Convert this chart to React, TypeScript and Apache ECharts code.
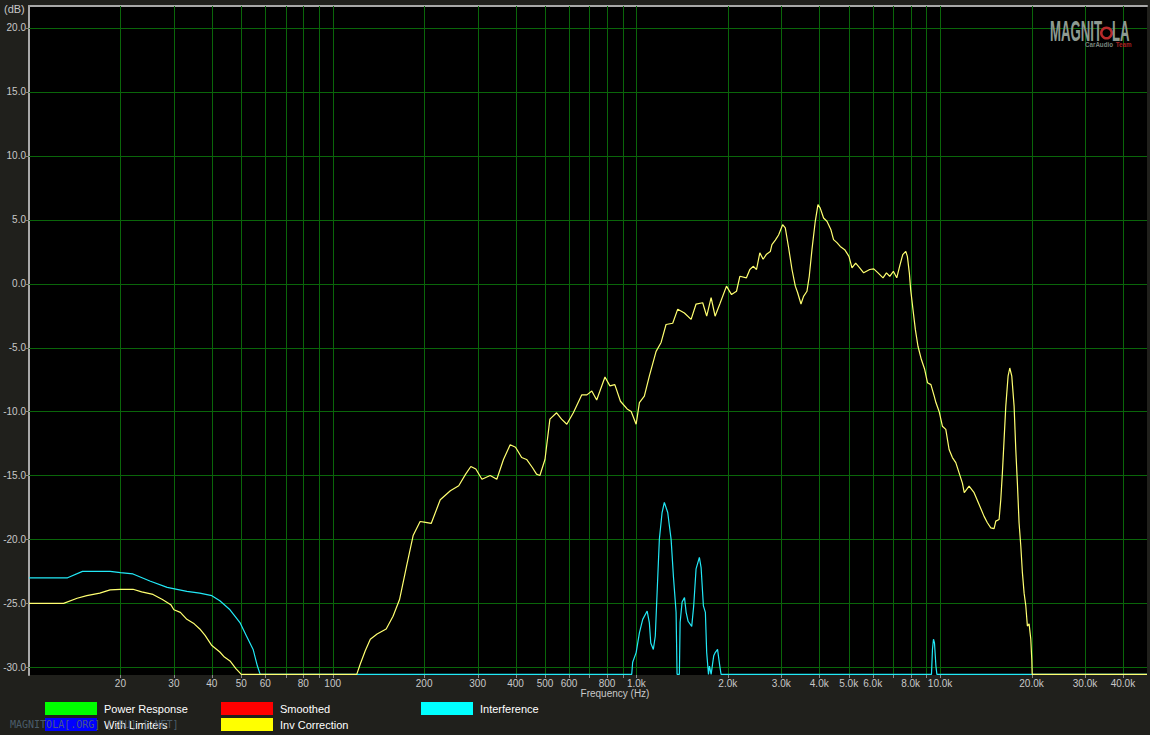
import React, { useEffect, useRef } from "react";
import * as echarts from "echarts";

// ---- axis ranges ----
const F_MIN = 10;
const F_MAX = 48000;
const Y_MIN = -30.6;
const Y_MAX = 21.7;
const FLOOR = -30.55; // curves that fall below the visible range sit on the floor

// ---- tick / grid definitions ----
const gridFreqs = [20, 30, 40, 50, 60, 70, 80, 90, 100, 200, 300, 400, 500, 600, 700, 800, 900, 1000, 2000, 3000, 4000, 5000, 6000, 7000, 8000, 9000, 10000, 20000, 30000, 40000];
const freqTickLabels = ["20", "30", "40", "50", "60", "", "80", "", "100", "200", "300", "400", "500", "600", "", "800", "", "1.0k", "2.0k", "3.0k", "4.0k", "5.0k", "6.0k", "", "8.0k", "", "10.0k", "20.0k", "30.0k", "40.0k"];
const dbTicks = [20, 15, 10, 5, 0, -5, -10, -15, -20, -25, -30];
const dbTickLabels = ["20.0", "15.0", "10.0", "5.0", "0.0", "-5.0", "-10.0", "-15.0", "-20.0", "-25.0", "-30.0"];

// ---- series: Inv Correction (yellow) [Hz, dB] ----
const invCorrection: [number, number][] = [
  [10, -25.0], [13, -25.0], [14.4, -24.6], [15.5, -24.4], [17.1, -24.2], [18.5, -23.95], [20, -23.9], [22, -23.9],
  [23.5, -24.1], [25.6, -24.3], [27.5, -24.7], [29.3, -25.1], [30, -25.5], [31.5, -25.7], [33.1, -26.25], [35, -26.6],
  [36.5, -27.0], [38, -27.5], [40, -28.3], [42.5, -28.8], [44, -29.2], [45.9, -29.5], [48, -30.1], [50, FLOOR],
  [120, FLOOR], [123, -29.8], [128, -28.7], [133, -27.8], [140, -27.4], [150, -27.0], [158, -26.0], [166, -24.7],
  [175, -22.1], [184, -19.7], [194, -18.6], [200, -18.65], [211, -18.75], [226, -16.9], [244, -16.2], [260, -15.8],
  [274, -14.9], [285, -14.3], [296, -14.5], [310, -15.3], [330, -15.0], [347, -15.3], [365, -13.75], [384, -12.6],
  [400, -12.8], [419, -13.6], [435, -13.75], [455, -14.4], [469, -14.9], [481, -15.0], [500, -13.75], [519, -10.6],
  [546, -10.1], [567, -10.6], [590, -11.0], [620, -10.1], [661, -8.7], [687, -8.7], [713, -8.4], [740, -9.1],
  [788, -7.3], [818, -8.0], [849, -7.9], [886, -9.2], [932, -9.8], [961, -10.0], [998, -11.0], [1023, -9.3],
  [1062, -8.8], [1103, -7.24], [1161, -5.3], [1206, -4.6], [1252, -3.2], [1317, -3.1], [1368, -2.0], [1439, -2.3],
  [1514, -2.8], [1572, -1.6], [1653, -1.5], [1704, -2.55], [1762, -1.1], [1816, -2.55], [1882, -1.6], [1980, -0.2],
  [2057, -0.86], [2136, -0.6], [2191, 0.57], [2303, 0.45], [2363, 1.1], [2423, 1.35], [2486, 1.1], [2549, 2.4],
  [2614, 1.9], [2682, 2.3], [2760, 2.5], [2794, 3.05], [2867, 3.4], [2939, 3.8], [3030, 4.6], [3092, 4.35],
  [3171, 2.8], [3253, 1.1], [3336, -0.2], [3394, -0.7], [3483, -1.6], [3551, -1.0], [3644, -0.6], [3708, 0.57],
  [3785, 2.65], [3881, 4.87], [3961, 6.17], [4030, 5.9], [4133, 5.13], [4240, 4.87], [4371, 4.2], [4458, 3.44],
  [4574, 3.2], [4690, 2.9], [4851, 2.65], [5011, 2.13], [5127, 1.23], [5272, 1.6], [5435, 1.23], [5602, 0.84],
  [5865, 1.1], [6046, 1.15], [6246, 0.84], [6487, 0.45], [6657, 0.84], [6826, 0.57], [7016, 0.96], [7199, 0.45],
  [7382, 1.48], [7534, 2.27], [7708, 2.52], [7802, 2.13], [7920, 0.84], [8000, -0.47], [8141, -2.03], [8290, -3.6],
  [8455, -4.9], [8676, -5.94], [8895, -6.7], [9090, -7.76], [9326, -7.9], [9562, -8.8], [9687, -9.3], [9925, -10.0],
  [10175, -11.15], [10441, -11.4], [10706, -12.97], [10977, -13.6], [11264, -14.0], [11549, -14.8], [11842, -15.6],
  [12011, -16.35], [12458, -15.83], [12940, -16.35], [13439, -17.27], [13958, -18.2], [14311, -18.7], [14686, -19.1],
  [15058, -19.16], [15253, -18.57], [15639, -18.44], [15841, -16.9], [16035, -14.8], [16243, -12.2], [16453, -9.6],
  [16742, -7.24], [16961, -6.6], [17220, -7.24], [17525, -9.6], [17749, -12.97], [17966, -15.6], [18197, -18.7],
  [18435, -20.5], [18662, -22.6], [18905, -24.2], [19151, -25.2], [19383, -26.77], [19634, -26.6], [19888, -27.8],
  [20040, -29.4], [20100, FLOOR], [48000, FLOOR],
];

// ---- series: Interference (cyan) [Hz, dB] ----
const interference: [number, number][] = [
  [10, -23.0], [13.4, -23.0], [15, -22.5], [18.5, -22.5], [20, -22.6], [22, -22.7], [25, -23.25], [28.5, -23.75],
  [33.1, -24.06], [36.5, -24.2], [40, -24.4], [42.5, -24.8], [45.9, -25.5], [49.5, -26.5], [52, -27.55], [54.7, -28.6],
  [56.5, -29.9], [57.7, FLOOR], [965, FLOOR], [972, -29.6], [998, -28.85], [1023, -27.3], [1049, -26.25], [1085, -25.6],
  [1103, -26.5], [1115, -28.1], [1137, -28.6], [1154, -27.55], [1175, -23.1], [1190, -20.0], [1215, -17.9], [1236, -17.1],
  [1268, -17.9], [1301, -20.0], [1324, -22.9], [1351, -25.7], [1361, FLOOR], [1385, FLOOR], [1393, -26.5], [1414, -24.9],
  [1440, -24.55], [1458, -25.7], [1480, -26.4], [1521, -26.8], [1544, -25.2], [1572, -22.3], [1612, -21.4], [1633, -22.2],
  [1662, -25.2], [1687, -25.7], [1704, -28.85], [1727, FLOOR], [1740, -29.9], [1762, FLOOR], [1797, -29.1], [1818, -28.85],
  [1850, -28.6], [1882, -29.9], [1900, FLOOR], [9366, FLOOR], [9438, -28.6], [9510, -27.8], [9583, -28.1], [9687, -29.9],
  [9760, FLOOR], [48000, FLOOR],
];

// ---- legend entries ----
const legendCol1 = ["Power Response", "With Limiters"];
const legendCol2 = ["Smoothed", "Inv Correction"];
const legendCol3 = ["Interference"];

const GRID_COLOR = "#0a660a";
const TICK_COLOR = "#8a8a8a";
const LABEL_COLOR = "#c8c8c8";
const FONT = "'Liberation Sans', Arial, sans-serif";

export default function App() {
  const ref = useRef<HTMLDivElement>(null);

  useEffect(() => {
    if (!ref.current) return;
    const chart = echarts.init(ref.current, null, { renderer: "svg" });

    const legendBase = {
      orient: "vertical",
      icon: "rect",
      itemWidth: 52,
      itemHeight: 13,
      itemGap: 3,
      padding: 0,
      selectedMode: false,
      textStyle: { color: "#ffffff", fontSize: 11, fontFamily: FONT, padding: [0, 0, 0, 2] },
    };

    const option: any = {
      animation: false,
      backgroundColor: "#20201c",
      grid: {
        left: 29,
        right: 3,
        top: 6,
        bottom: 60,
        show: true,
        backgroundColor: "#000000",
        borderWidth: 0,
      },
      xAxis: [
        {
          type: "log",
          logBase: 10,
          min: F_MIN,
          max: F_MAX,
          axisLine: { show: false },
          axisTick: { show: false },
          axisLabel: { show: false },
          splitLine: { show: false },
        },
        {
          type: "value",
          position: "top",
          min: 0,
          max: 1,
          axisLine: { show: true, lineStyle: { color: "#a8a8a8", width: 2 } },
          axisTick: { show: false },
          axisLabel: { show: false },
          splitLine: { show: false },
        },
      ],
      yAxis: {
        type: "value",
        min: Y_MIN,
        max: Y_MAX,
        axisLine: { show: true, lineStyle: { color: "#a8a8a8", width: 2 } },
        axisTick: { show: false },
        axisLabel: { show: false },
        splitLine: { show: false },
      },
      legend: [
        { ...legendBase, left: 45, top: 702, data: legendCol1 },
        { ...legendBase, left: 221, top: 702, data: legendCol2 },
        { ...legendBase, left: 421, top: 702, data: legendCol3 },
      ],
      series: [
        {
          name: "__vgrid",
          type: "custom",
          z: 1,
          silent: true,
          clip: false,
          data: gridFreqs.map((f) => [f]),
          encode: { x: 0 },
          renderItem: (params: any, api: any) => {
            const f = api.value(0);
            const p0 = api.coord([f, Y_MIN]);
            const p1 = api.coord([f, Y_MAX]);
            const x = Math.round(p0[0]) + 0.5;
            const label = freqTickLabels[params.dataIndex];
            const children: any[] = [
              { type: "line", shape: { x1: x, y1: p0[1], x2: x, y2: p1[1] }, style: { stroke: GRID_COLOR, lineWidth: 1 } },
              { type: "line", shape: { x1: x, y1: p0[1], x2: x, y2: p0[1] + 3 }, style: { stroke: TICK_COLOR, lineWidth: 1 } },
            ];
            if (label) {
              children.push({
                type: "text",
                x: p0[0],
                y: p0[1] + 3,
                style: { text: label, fill: LABEL_COLOR, font: `10px ${FONT}`, align: "center", verticalAlign: "top" },
              });
            }
            return { type: "group", children };
          },
        },
        {
          name: "__hgrid",
          type: "custom",
          z: 1,
          silent: true,
          clip: false,
          data: dbTicks.map((v) => [v]),
          encode: { y: 0 },
          renderItem: (params: any, api: any) => {
            const v = api.value(0);
            const p0 = api.coord([F_MIN, v]);
            const p1 = api.coord([F_MAX, v]);
            const y = Math.round(p0[1]) + 0.5;
            return {
              type: "group",
              children: [
                { type: "line", shape: { x1: p0[0], y1: y, x2: p1[0], y2: y }, style: { stroke: GRID_COLOR, lineWidth: 1 } },
                { type: "line", shape: { x1: p0[0] - 3, y1: y, x2: p0[0], y2: y }, style: { stroke: TICK_COLOR, lineWidth: 1 } },
                {
                  type: "text",
                  x: p0[0] - 3,
                  y: p0[1],
                  style: {
                    text: dbTickLabels[params.dataIndex],
                    fill: LABEL_COLOR,
                    font: `10px ${FONT}`,
                    align: "right",
                    verticalAlign: "middle",
                  },
                },
              ],
            };
          },
        },
        { name: "Power Response", type: "line", data: [], itemStyle: { color: "#00ff00" }, lineStyle: { color: "#00ff00" } },
        { name: "With Limiters", type: "line", data: [], itemStyle: { color: "#0000ff" }, lineStyle: { color: "#0000ff" } },
        { name: "Smoothed", type: "line", data: [], itemStyle: { color: "#ff0000" }, lineStyle: { color: "#ff0000" } },
        {
          name: "Interference",
          type: "line",
          data: interference,
          z: 3,
          showSymbol: false,
          itemStyle: { color: "#00ffff" },
          lineStyle: { color: "#22e8f6", width: 1.2 },
        },
        {
          name: "Inv Correction",
          type: "line",
          data: invCorrection,
          z: 4,
          showSymbol: false,
          itemStyle: { color: "#ffff00" },
          lineStyle: { color: "#ffff70", width: 1.2 },
        },
      ],
      graphic: [
        {
          type: "text",
          left: 4,
          top: 3,
          style: { text: "(dB)", fill: LABEL_COLOR, font: `11px ${FONT}` },
        },
        {
          type: "text",
          x: 615,
          y: 693,
          style: { text: "Frequency (Hz)", fill: LABEL_COLOR, font: `10px ${FONT}`, align: "center", verticalAlign: "middle" },
        },
        {
          type: "text",
          x: 1050,
          y: 31,
          scaleX: 0.44,
          style: { text: "MAGNIT", fill: "#8e9a92", font: `bold 30px ${FONT}`, verticalAlign: "middle" },
          z: 5,
        },
        {
          type: "ring",
          shape: { cx: 1106.5, cy: 33, r: 6.5, r0: 4 },
          style: { fill: "#b82a2a" },
          z: 5,
        },
        {
          type: "text",
          x: 1112,
          y: 31,
          scaleX: 0.44,
          style: { text: "LA", fill: "#8e9a92", font: `bold 30px ${FONT}`, verticalAlign: "middle" },
          z: 5,
        },
        {
          type: "text",
          x: 1085,
          y: 44.5,
          scaleX: 0.78,
          style: {
            text: "{a|CarAudio} {b|Team}",
            verticalAlign: "middle",
            rich: {
              a: { fill: "#7a847e", font: `bold 8px ${FONT}` },
              b: { fill: "#a82020", font: `bold 8px ${FONT}` },
            },
          },
          z: 5,
        },
        {
          type: "text",
          x: 10,
          y: 724,
          style: {
            text: "MAGNITOLA[.ORG] [.RU] [.NET]",
            fill: "rgba(80,100,116,0.9)",
            font: "10px 'DejaVu Sans Mono', monospace",
            verticalAlign: "middle",
          },
          z: 100,
        },
      ],
    };

    chart.setOption(option);
    return () => chart.dispose();
  }, []);

  return (
    <div
      ref={ref}
      style={{ position: "fixed", left: 0, top: 0, width: 1150, height: 735 }}
    />
  );
}
